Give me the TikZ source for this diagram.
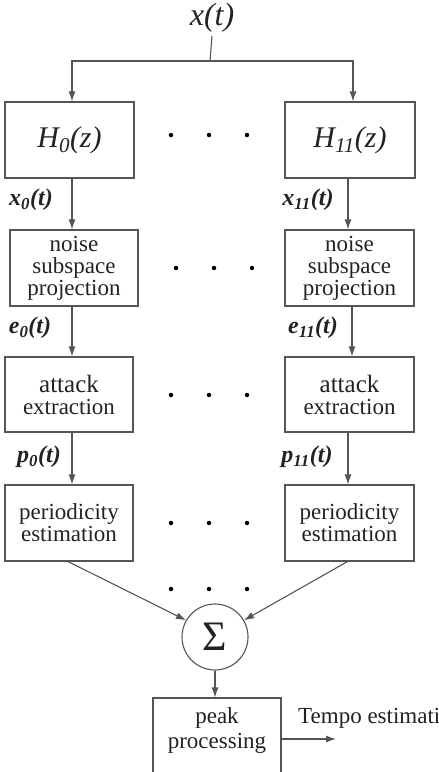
\documentclass[tikz,border=0pt]{standalone}
\usepackage{fontspec}
\setmainfont{Liberation Serif}
\usetikzlibrary{arrows.meta,calc}
\definecolor{lc}{HTML}{555555}
\definecolor{tc}{HTML}{222222}
\begin{document}
\begin{tikzpicture}[x=1pt,y=-1pt,
  blk/.style={draw=lc, line width=1.1pt, minimum width=128pt, minimum height=76pt, inner sep=0pt, align=center, text=tc, font=\fontsize{23}{22}\selectfont},
  arr/.style={draw=lc, line width=1.1pt, -{Latex[length=10pt,width=7pt]}},
  ln/.style={draw=lc, line width=1.1pt},
  lbl/.style={font=\fontsize{24}{24}\selectfont\bfseries\itshape, text=tc, inner sep=0pt},
  dotn/.style={circle, fill=black, inner sep=0pt, minimum size=4.5pt},
]
\clip (0,0) rectangle (439,772);
\useasboundingbox (0,0) rectangle (439,772);

% input
\node[font=\fontsize{32}{32}\selectfont\itshape, text=tc, inner sep=0pt] (xt) at (212,18) {x(t)};
\coordinate (split) at (210,61);
\coordinate (cL) at (72,0);
\coordinate (cR) at (348,0);

% filter boxes
\node[blk, minimum width=129pt, font=\fontsize{30}{30}\selectfont\itshape] (H0) at (69.5,140) {H\textsubscript{0}(z)};
\node[blk, minimum width=130pt, font=\fontsize{30}{30}\selectfont\itshape] (H11) at (350,140) {H\textsubscript{11}(z)};

% noise
\node[blk] (N0) at (74,268) {noise\\subspace\\projection};
\node[blk, minimum width=129pt] (N11) at (349.5,268) {noise\\subspace\\projection};

% attack
\node[blk, minimum height=75pt] (A0) at (69,394.5) {{\fontsize{25}{23}\selectfont attack}\\extraction};
\node[blk, minimum width=129pt, minimum height=75pt] (A11) at (349.5,394.5) {{\fontsize{25}{23}\selectfont attack}\\extraction};

% periodicity
\node[blk] (P0) at (69,523) {periodicity\\estimation};
\node[blk, minimum width=129pt] (P11) at (349.5,523) {periodicity\\estimation};

% sum
\node[circle, draw=lc, line width=1.1pt, minimum size=66pt, inner sep=0pt, text=tc, font=\fontsize{42}{42}\selectfont] (S) at (215,637) {Σ};

% peak
\node[blk, minimum height=80pt] (PK) at (217,738) {};
\node[align=center, inner sep=0pt, text=tc, font=\fontsize{23}{25}\selectfont] (PKt) at (217,730) {peak\\processing};
\node[anchor=west, font=\fontsize{23}{23}\selectfont, text=tc, inner sep=0pt] (TE) at (298,718) {Tempo estimation};
\coordinate (TEend) at (336,739);

% input connectors
\draw[ln] (xt.south |- 0,36) -- (split);
\draw[arr] (split) -| (H0.north -| cL);
\draw[arr] (split) -| ([xshift=5pt]H11.north -| cR);

% column arrows
\draw[arr] (H0.south -| cL) -- (N0.north -| cL);
\draw[arr] (N0.south -| cL) -- (A0.north -| cL);
\draw[arr] (A0.south -| cL) -- (P0.north -| cL);
\draw[arr] (H11.south -| cR) -- (N11.north -| cR);
\draw[arr] ([xshift=4pt]N11.south -| cR) -- ([xshift=4pt]A11.north -| cR);
\draw[arr] (A11.south -| cR) -- (P11.north -| cR);

% to sum
\draw[arr] ([xshift=-1pt]P0.south) -- (S.150);
\draw[arr] ([xshift=-2pt]P11.south) -- (S.30);
\draw[arr] (S.south) -- (PK.north -| S.south);
\draw[arr] (PK.east |- TEend) -- (TEend);

% labels
\node[lbl] (lx0) at (31,200) {x\textsubscript{0}(t)};
\node[lbl] (le0) at (30,328) {e\textsubscript{0}(t)};
\node[lbl] (lp0) at (39,457) {p\textsubscript{0}(t)};
\node[lbl] (lx11) at (308,200) {x\textsubscript{11}(t)};
\node[lbl] (le11) at (313,328) {e\textsubscript{11}(t)};
\node[lbl] (lp11) at (307,457) {p\textsubscript{11}(t)};

% dots
\foreach \y/\o in {135/0, 268/5, 395/0, 523/0, 589/0} {
  \foreach \x in {171,209,247} {
    \node[dotn] at (\x+\o,\y) {};
  }
}
\end{tikzpicture}
\end{document}
